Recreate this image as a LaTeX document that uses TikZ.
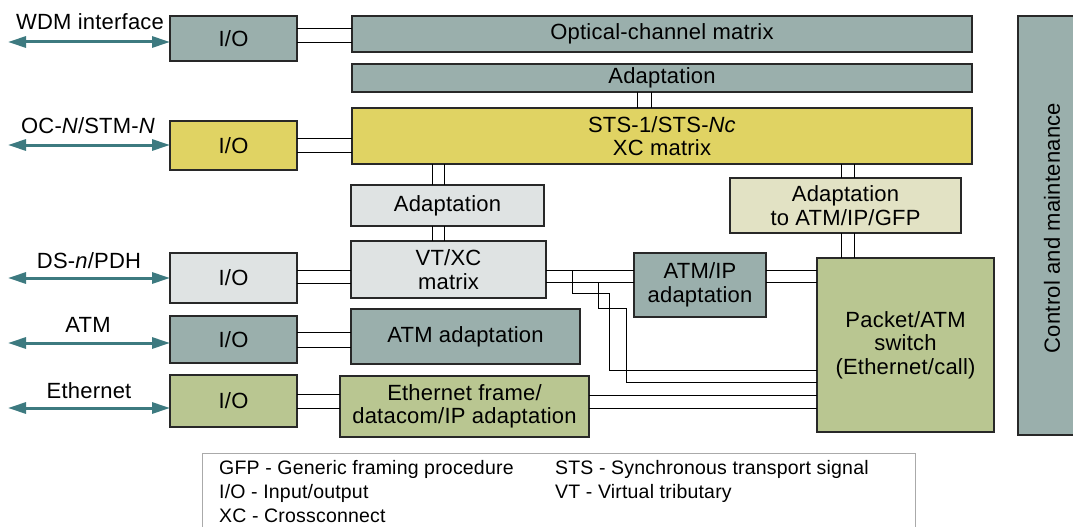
\documentclass[tikz,border=0pt]{standalone}
\usepackage{fontspec}
\setmainfont{Liberation Sans}[LetterSpace=1]
\usetikzlibrary{arrows.meta}

\definecolor{cgrey}{RGB}{154,175,172}
\definecolor{cyellow}{RGB}{224,211,99}
\definecolor{clight}{RGB}{223,227,227}
\definecolor{cpale}{RGB}{226,226,196}
\definecolor{cgreen}{RGB}{185,198,145}
\definecolor{cteal}{RGB}{61,122,128}
\definecolor{boxline}{RGB}{40,40,40}
\definecolor{legline}{RGB}{170,170,170}

\begin{document}
\begin{tikzpicture}[x=1pt,y=-1pt,
  blk/.style={draw=boxline, line width=1.3pt, inner sep=0pt, outer sep=0pt,
    anchor=north west, align=center, font=\fontsize{22}{23.5}\selectfont},
  link/.style={draw=black, line width=1pt},
  port/.style={draw=cteal, line width=3pt,
    {Triangle[length=18pt,width=11pt]}-{Triangle[length=18pt,width=11pt]}},
  plabel/.style={font=\fontsize{22}{24}\selectfont, inner sep=0pt},
  legtext/.style={font=\fontsize{19.5}{22}\selectfont, anchor=base west, inner sep=0pt}
  ]
\useasboundingbox (0,0) rectangle (1073,527);
\clip (0,0) rectangle (1073,527);

% ---- blocks ----
\node[blk, fill=cgrey,   minimum width=127pt, minimum height=45pt] (io1) at (170,16) {I/O};
\node[blk, fill=cgrey,   minimum width=620pt, minimum height=36pt] (ocm) at (352,16) {Optical-channel matrix};
\node[blk, fill=cgrey,   minimum width=620pt, minimum height=28pt] (adt1) at (352,64) {Adaptation};
\node[blk, fill=cyellow, minimum width=127pt, minimum height=49pt] (io2) at (170,121) {I/O};
\node[blk, fill=cyellow, minimum width=620pt, minimum height=56pt] (sts) at (352,108) {STS-1/STS-\textit{Nc}\\XC matrix};
\node[blk, fill=clight,  minimum width=193pt, minimum height=41pt] (adt2) at (351,185) {Adaptation};
\node[blk, fill=cpale,   minimum width=231pt, minimum height=55pt] (adtatm) at (730,178) {Adaptation\\to ATM/IP/GFP};
\node[blk, fill=clight,  minimum width=127pt, minimum height=50pt] (io3) at (170,253) {I/O};
\node[blk, fill=clight,  minimum width=195pt, minimum height=57pt] (vtxc) at (351,241) {VT/XC\\matrix};
\node[blk, fill=cgrey,   minimum width=132pt, minimum height=64pt] (atmip) at (634,253) {ATM/IP\\adaptation};
\node[blk, fill=cgreen,  minimum width=177pt, minimum height=174pt] (pkt) at (817,258) {Packet/ATM\\switch\\(Ethernet/call)};
\node[blk, fill=cgrey,   minimum width=127pt, minimum height=47pt] (io4) at (170,316) {I/O};
\node[blk, fill=cgrey,   minimum width=229pt, minimum height=55pt] (atmad) at (351,309) {ATM adaptation};
\node[blk, fill=cgreen,  minimum width=127pt, minimum height=52pt] (io5) at (170,375) {I/O};
\node[blk, fill=cgreen,  minimum width=249pt, minimum height=61pt] (ethad) at (340,376) {Ethernet frame/\\datacom/IP adaptation};
\node[blk, fill=cgrey,   minimum width=70pt,  minimum height=419pt] (ctrl) at (1018,16) {};
\node[plabel, rotate=90] (ctrltext) at (1052,228) {Control and maintenance};

% ---- external interfaces ----
\coordinate (p1) at (8,42);   \coordinate (p2) at (8,145);
\coordinate (p3) at (8,278);  \coordinate (p4) at (8,343);
\coordinate (p5) at (8,408);
\draw[port] (p1) -- (p1 -| io1.west);
\draw[port] (p2) -- (p2 -| io2.west);
\draw[port] (p3) -- (p3 -| io3.west);
\draw[port] (p4) -- (p4 -| io4.west);
\draw[port] (p5) -- (p5 -| io5.west);
\node[plabel] (l1) at (90,22)  {WDM interface};
\node[plabel] (l2) at (88,126) {OC-\textit{N}/STM-\textit{N}};
\node[plabel] (l3) at (89,261) {DS-\textit{n}/PDH};
\node[plabel] (l4) at (88,325) {ATM};
\node[plabel] (l5) at (89,391) {Ethernet};

% ---- internal double links ----
\foreach \y in {29,43}  \draw[link] (io1.east |- 0,\y) -- (ocm.west |- 0,\y);
\foreach \y in {138,152} \draw[link] (io2.east |- 0,\y) -- (sts.west |- 0,\y);
\foreach \y in {270,283} \draw[link] (io3.east |- 0,\y) -- (vtxc.west |- 0,\y);
\foreach \y in {332,347} \draw[link] (io4.east |- 0,\y) -- (atmad.west |- 0,\y);
\foreach \y in {394,408} \draw[link] (io5.east |- 0,\y) -- (ethad.west |- 0,\y);
\foreach \x in {637,651} \draw[link] (adt1.south -| \x,0) -- (sts.north -| \x,0);
\foreach \x in {432,444} {
  \draw[link] (sts.south -| \x,0) -- (adt2.north -| \x,0);
  \draw[link] (adt2.south -| \x,0) -- (vtxc.north -| \x,0);
}
\foreach \x in {841,854} {
  \draw[link] (sts.south -| \x,0) -- (adtatm.north -| \x,0);
  \draw[link] (adtatm.south -| \x,0) -- (pkt.north -| \x,0);
}
\foreach \y in {270,282} {
  \draw[link] (vtxc.east |- 0,\y) -- (atmip.west |- 0,\y);
  \draw[link] (atmip.east |- 0,\y) -- (pkt.west |- 0,\y);
}
\foreach \y in {395,408} \draw[link] (ethad.east |- 0,\y) -- (pkt.west |- 0,\y);
% branches from the VT/XC links straight to the packet switch
\draw[link] (572,270) |- (609,293) |- (pkt.west |- 0,370);
\draw[link] (598,282) |- (626,308) |- (pkt.west |- 0,382);

% ---- legend ----
\node[draw=legline, line width=1pt, anchor=north west, inner sep=0pt,
  minimum width=713pt, minimum height=90pt] (legend) at (202,453) {};
\node[legtext] (g1) at (219,474) {GFP - Generic framing procedure};
\node[legtext] (g2) at (219,498) {I/O - Input/output};
\node[legtext] (g3) at (219,522) {XC - Crossconnect};
\node[legtext] (g4) at (555,474) {STS - Synchronous transport signal};
\node[legtext] (g5) at (555,498) {VT - Virtual tributary};
\end{tikzpicture}
\end{document}
